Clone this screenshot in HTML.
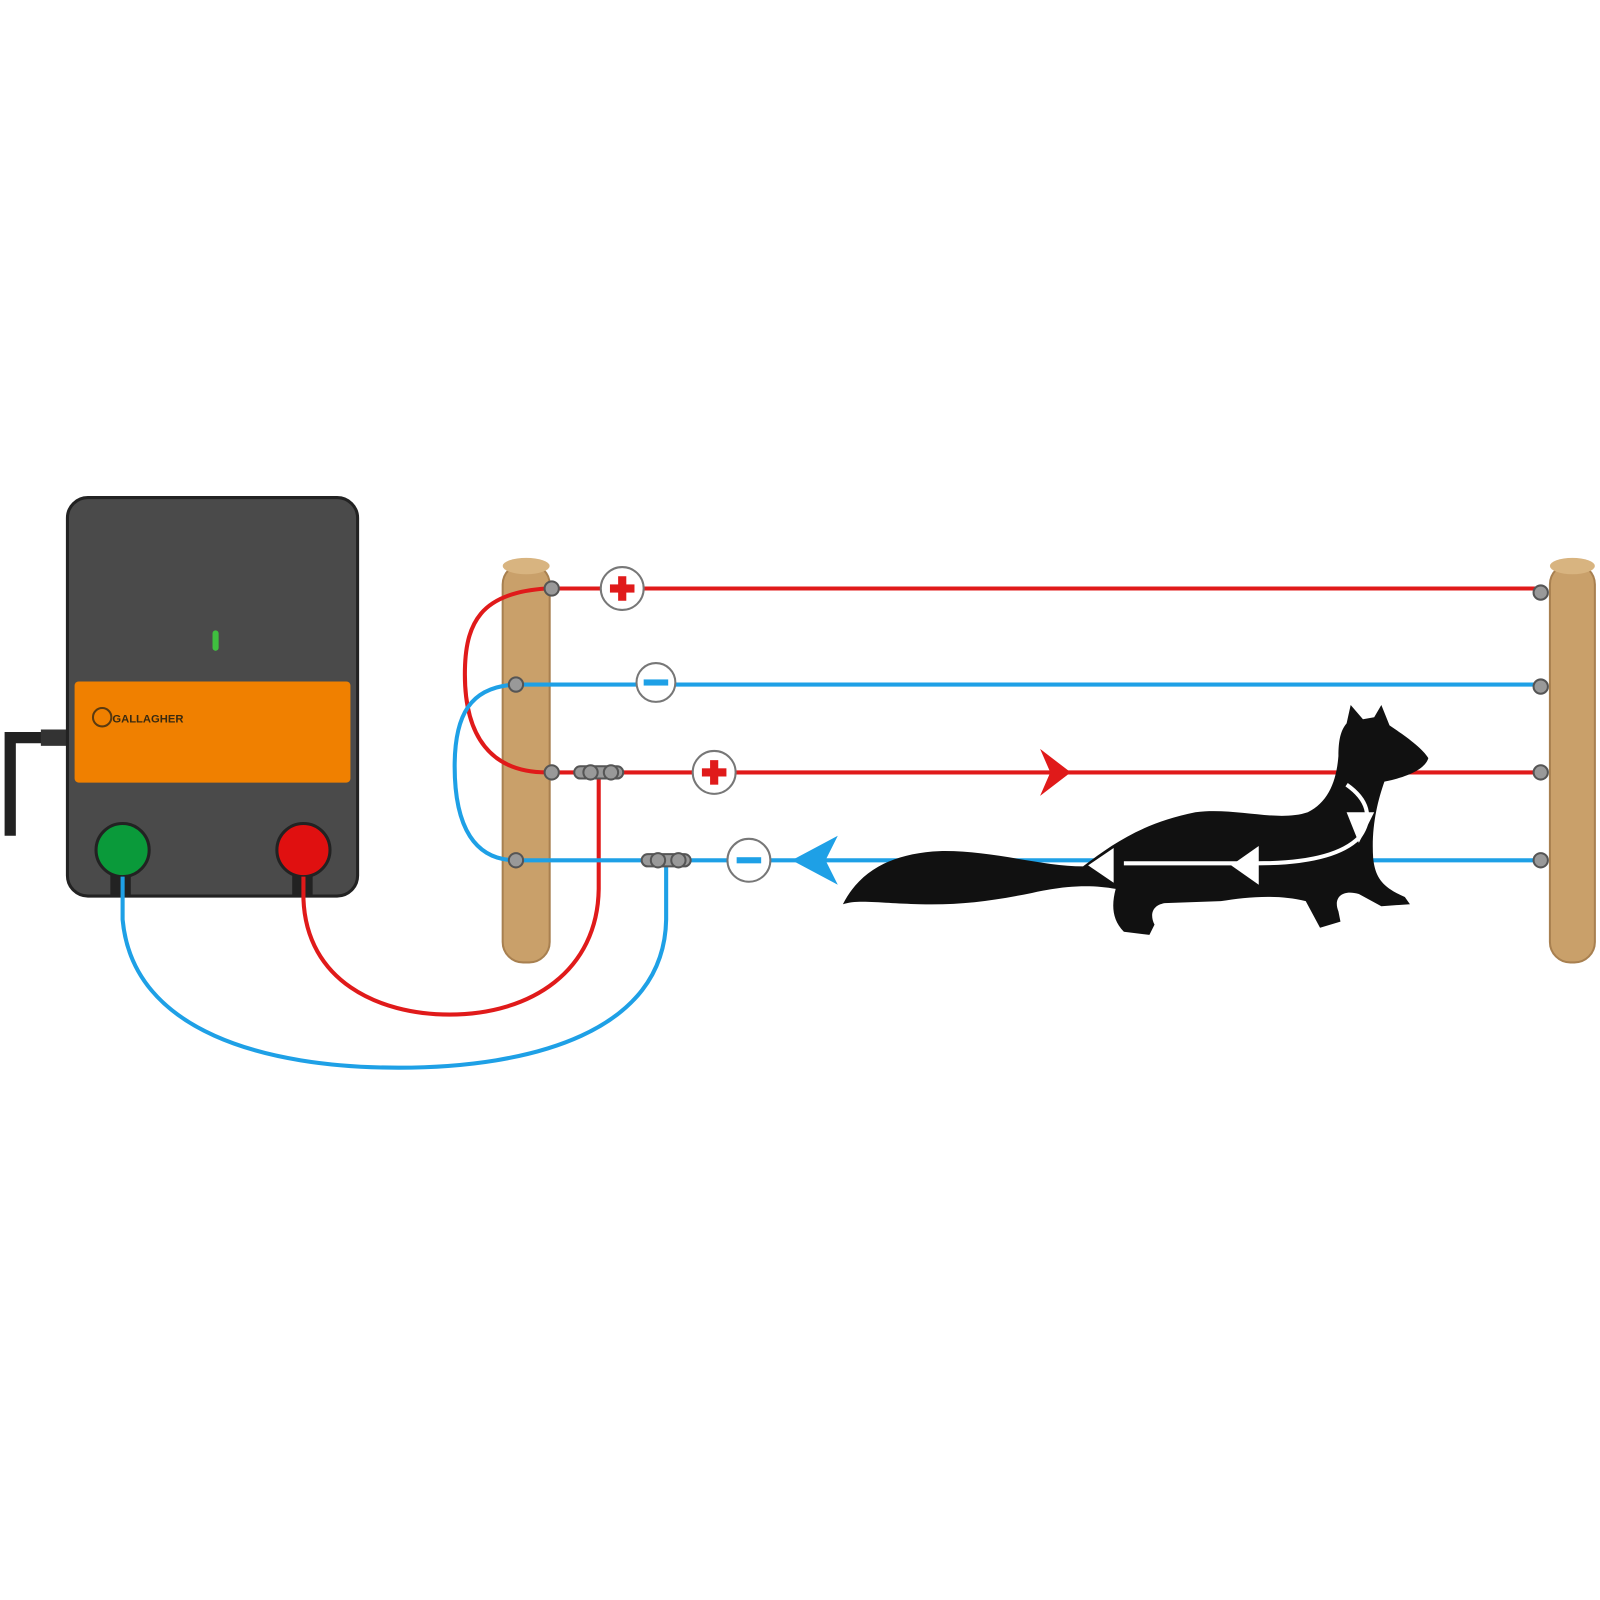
<!DOCTYPE html>
<html><head><style>html,body{margin:0;padding:0;background:#fff}svg{display:block}</style></head><body>
<svg width="1600" height="1600" viewBox="0 0 1600 1600" xmlns="http://www.w3.org/2000/svg">
<g transform="scale(1.0217)">
<!-- cord -->
<path d="M66,722 H10 V818" fill="none" stroke="#222" stroke-width="11"/>
<rect x="40" y="714" width="26" height="16" fill="#333"/>
<!-- energizer -->
<rect x="66" y="487" width="284" height="390" rx="20" fill="#4a4a4a" stroke="#222" stroke-width="3"/>
<rect x="73" y="667" width="270" height="99" rx="4" fill="#f08000"/>
<rect x="208" y="617" width="6" height="20" rx="3" fill="#3fbf3f"/>
<circle cx="100" cy="702" r="9" fill="none" stroke="#5a3a10" stroke-width="2"/>
<text x="110" y="707" font-family="Liberation Sans, sans-serif" font-size="11" font-weight="bold" fill="#3a2a10">GALLAGHER</text>
<rect x="108" y="855" width="20" height="22" fill="#222"/>
<rect x="286" y="855" width="20" height="22" fill="#222"/>
<circle cx="120" cy="832" r="26" fill="#0a9a3a" stroke="#222" stroke-width="3"/>
<circle cx="297" cy="832" r="26" fill="#e01010" stroke="#222" stroke-width="3"/>
<!-- posts -->
<rect x="492" y="552" width="46" height="390" rx="20" fill="#c9a06a" stroke="#a88050" stroke-width="2"/>
<ellipse cx="515" cy="554" rx="23" ry="8" fill="#d8b480"/>
<rect x="1517" y="552" width="44" height="390" rx="20" fill="#c9a06a" stroke="#a88050" stroke-width="2"/>
<ellipse cx="1539" cy="554" rx="22" ry="8" fill="#d8b480"/>
<!-- lead wires -->
<path d="M120,858 V900 C130,1010 260,1045 390,1045 C520,1045 650,1010 652,900 V842" fill="none" stroke="#1ea0e6" stroke-width="4"/>
<path d="M297,858 V880 C300,960 370,993 440,993 C520,993 585,950 586,870 V756" fill="none" stroke="#e01a1a" stroke-width="4"/>
<!-- fence wires -->
<path d="M535,576 C470,580 455,610 455,660 C455,720 480,756 535,756" fill="none" stroke="#e01a1a" stroke-width="4"/>
<path d="M505,670 C460,672 445,700 445,750 C445,810 465,842 505,842" fill="none" stroke="#1ea0e6" stroke-width="4"/>
<line x1="535" y1="576" x2="1508" y2="576" stroke="#e01a1a" stroke-width="4"/>
<line x1="500" y1="670" x2="1508" y2="670" stroke="#1ea0e6" stroke-width="4"/>
<line x1="535" y1="756" x2="1508" y2="756" stroke="#e01a1a" stroke-width="4"/>
<line x1="500" y1="842" x2="1508" y2="842" stroke="#1ea0e6" stroke-width="4"/>
<!-- insulators -->
<g fill="#999" stroke="#555" stroke-width="2">
<circle cx="540" cy="576" r="7"/><circle cx="505" cy="670" r="7"/><circle cx="540" cy="756" r="7"/><circle cx="505" cy="842" r="7"/>
<circle cx="1508" cy="580" r="7"/><circle cx="1508" cy="672" r="7"/><circle cx="1508" cy="756" r="7"/><circle cx="1508" cy="842" r="7"/>
<rect x="562" y="750" width="48" height="12" rx="6"/><circle cx="578" cy="756" r="7"/><circle cx="598" cy="756" r="7"/>
<rect x="628" y="836" width="48" height="12" rx="6"/><circle cx="644" cy="842" r="7"/><circle cx="664" cy="842" r="7"/>
</g>
<!-- symbols -->
<g stroke="#777" stroke-width="2" fill="#fff">
<circle cx="609" cy="576" r="21"/><circle cx="642" cy="668" r="19"/><circle cx="699" cy="756" r="21"/><circle cx="733" cy="842" r="21"/>
</g>
<g fill="#e01a1a"><rect x="597" y="572" width="24" height="8"/><rect x="605" y="564" width="8" height="24"/>
<rect x="687" y="752" width="24" height="8"/><rect x="695" y="744" width="8" height="24"/></g>
<g fill="#1ea0e6"><rect x="630" y="665" width="24" height="6"/><rect x="721" y="839" width="24" height="6"/></g>
<!-- arrows -->
<path d="M1018,733 L1048,756 L1018,779 L1028,756 Z" fill="#e01a1a"/>
<path d="M820,818 L775,842 L820,866 L808,842 Z" fill="#1ea0e6"/>
<!-- animal -->
<path d="M825,885 C840,855 870,835 920,833 C970,832 1020,848 1060,848 C1090,825 1120,805 1170,795 C1210,790 1250,805 1280,795 C1300,785 1308,765 1310,740 C1310,725 1312,715 1318,708 L1322,690 L1334,704 L1345,702 L1352,690 L1360,710 C1375,720 1392,732 1398,742 C1395,752 1380,760 1355,765 C1348,785 1342,810 1344,840 C1346,858 1352,868 1375,878 L1380,885 L1352,887 L1330,875 C1312,870 1305,880 1310,892 L1312,902 L1292,908 L1278,882 C1250,875 1220,878 1195,882 L1140,884 C1128,886 1125,895 1130,905 L1125,915 L1100,912 C1088,900 1088,885 1092,870 C1070,866 1045,866 1010,874 C970,882 940,886 900,885 C860,884 840,880 825,885 Z" fill="#111"/>
<path d="M1318,768 C1338,782 1345,800 1330,820 C1310,840 1270,845 1230,845 L1100,845" fill="none" stroke="#fff" stroke-width="4"/>
<path d="M1232,828 L1205,847 L1232,866 Z" fill="#fff"/>
<path d="M1090,830 L1065,847 L1090,864 Z" fill="#fff"/>
<path d="M1345,795 L1330,825 L1318,795 Z" fill="#fff"/>
</g>
</svg>
</body></html>
